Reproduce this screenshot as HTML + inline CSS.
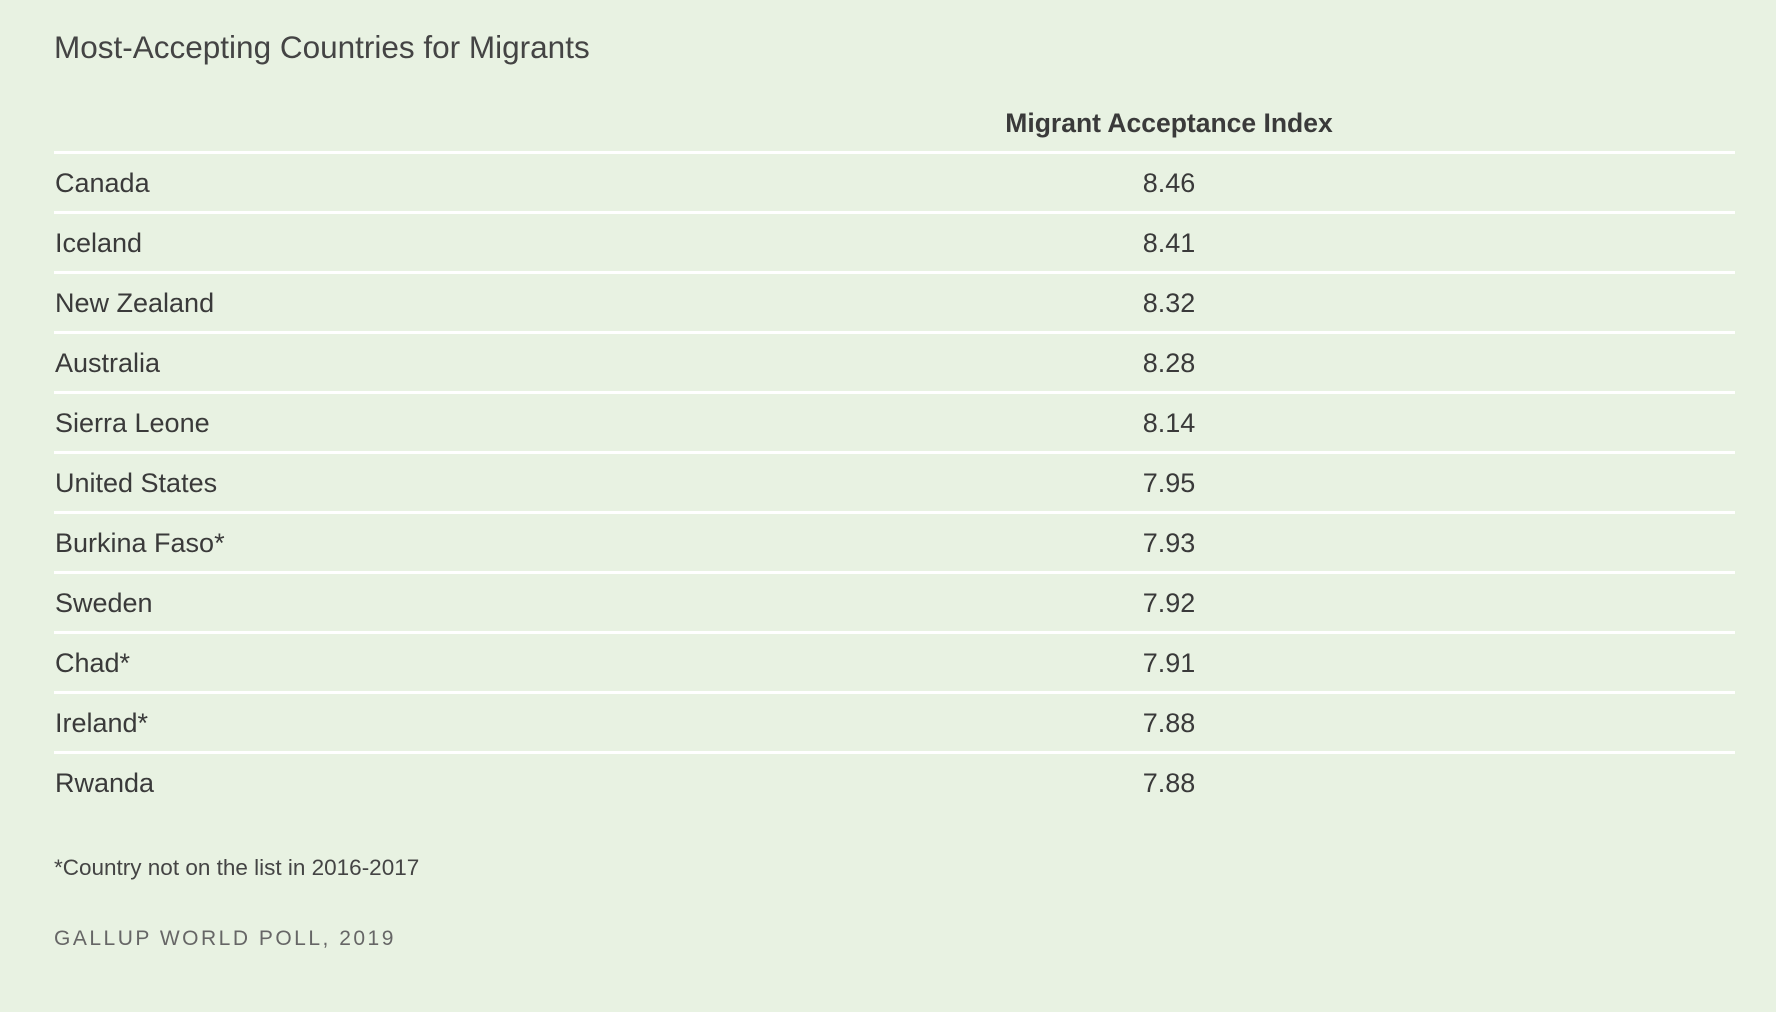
<!DOCTYPE html>
<html><head><style>
body{margin:0;width:1776px;height:1012px;background:#e8f2e2;font-family:"Liberation Sans",sans-serif;color:#3a3a3a;position:relative;overflow:hidden}
div{position:absolute}
.t{left:54px;top:29px;font-size:31.5px;color:#444}
.h{left:919px;width:500px;text-align:center;top:108px;font-size:26.5px;font-weight:bold;color:#3a3a3a}
.l{left:54px;width:1681px;height:3px;background:#fff}
.n{left:55px;font-size:27px;line-height:60px}
.v{left:1069px;width:200px;text-align:center;font-size:27px;line-height:60px}
.f{left:54px;top:855px;font-size:22.5px;color:#444}
.s{left:54px;top:927px;font-size:21px;letter-spacing:2.5px;color:#666}
</style></head><body>
<div class="t">Most-Accepting Countries for Migrants</div>
<div class="h">Migrant Acceptance Index</div>
<div class="l" style="top:151px"></div>
<div class="l" style="top:211px"></div>
<div class="l" style="top:271px"></div>
<div class="l" style="top:331px"></div>
<div class="l" style="top:391px"></div>
<div class="l" style="top:451px"></div>
<div class="l" style="top:511px"></div>
<div class="l" style="top:571px"></div>
<div class="l" style="top:631px"></div>
<div class="l" style="top:691px"></div>
<div class="l" style="top:751px"></div>
<div class="n" style="top:153px">Canada</div><div class="v" style="top:153px">8.46</div>
<div class="n" style="top:213px">Iceland</div><div class="v" style="top:213px">8.41</div>
<div class="n" style="top:273px">New Zealand</div><div class="v" style="top:273px">8.32</div>
<div class="n" style="top:333px">Australia</div><div class="v" style="top:333px">8.28</div>
<div class="n" style="top:393px">Sierra Leone</div><div class="v" style="top:393px">8.14</div>
<div class="n" style="top:453px">United States</div><div class="v" style="top:453px">7.95</div>
<div class="n" style="top:513px">Burkina Faso*</div><div class="v" style="top:513px">7.93</div>
<div class="n" style="top:573px">Sweden</div><div class="v" style="top:573px">7.92</div>
<div class="n" style="top:633px">Chad*</div><div class="v" style="top:633px">7.91</div>
<div class="n" style="top:693px">Ireland*</div><div class="v" style="top:693px">7.88</div>
<div class="n" style="top:753px">Rwanda</div><div class="v" style="top:753px">7.88</div>
<div class="f">*Country not on the list in 2016-2017</div>
<div class="s">GALLUP WORLD POLL, 2019</div>
</body></html>
